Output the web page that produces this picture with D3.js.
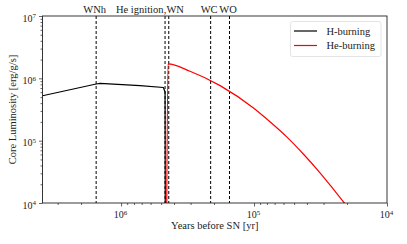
<!DOCTYPE html>
<html>
<head>
<meta charset="utf-8">
<script src="https://cdn.jsdelivr.net/npm/d3@7"></script>
<style>
  body { margin: 0; background: #fff; }
  text { font-family: "Liberation Serif", "DejaVu Serif", serif; fill: #222; }
</style>
</head>
<body>
<svg id="chart" width="407" height="244"></svg>
<script>
// H-burning track (years before SN, core luminosity erg/g/s)
const hTime = [3.9e6, 1.54e6, 1.44e6, 7.2e5, 4.81e5, 4.67e5, 4.65e5];
const hLum = [5.26e5, 8.11e5, 8.32e5, 7.62e5, 7.13e5, 6.04e5, 1e3];

// He-burning track
const heTime = [4.56e5, 4.44e5, 3.03e5, 1.80e5, 1.01e5, 7.59e4, 5.68e4, 4.26e4, 3.19e4, 2.54e4, 2.10e4, 1.90e4];
const heLum = [1e3, 1.70e6, 1.30e6, 7.64e5, 3.34e5, 2.01e5, 1.15e5, 6.11e4, 3.05e4, 1.68e4, 1.01e4, 7.55e3];

// phase markers
const eventLabels = ['WNh', 'He ignition', 'WN', 'WC', 'WO'];
const eventTimes = [1.54e6, 4.67e5, 4.38e5, 2.12e5, 1.53e5];

const xTicks = [1e6, 1e5, 1e4];
const yTicks = [1e4, 1e5, 1e6, 1e7];

const seriesNames = ['H-burning', 'He-burning'];
const seriesColors = ['#000', '#ff0000'];

const svg = d3.select('#chart');
const m = {left: 42.5, right: 387, top: 16, bottom: 203};

const x = d3.scaleLog().domain([3.9e6, 1e4]).range([m.left, m.right]);
const y = d3.scaleLog().domain([1e4, 1e7]).range([m.bottom, m.top]);

svg.append('clipPath').attr('id', 'clip')
  .append('rect')
  .attr('x', m.left).attr('y', m.top)
  .attr('width', m.right - m.left).attr('height', m.bottom - m.top);

// minor tick values
function minors(lo, hi) {
  let out = [];
  for (let e = Math.floor(Math.log10(lo)); e <= Math.ceil(Math.log10(hi)); e++) {
    for (let k = 2; k < 10; k++) {
      let v = k * Math.pow(10, e);
      if (v > lo && v < hi) out.push(v);
    }
  }
  return out;
}

function supLabel(sel) {
  sel.each(function(d) {
    let t = d3.select(this);
    t.text(null);
    t.append('tspan').text('10');
    t.append('tspan').attr('dy', '-0.45em').style('font-size', '7px')
      .text(Math.round(Math.log10(d)));
  });
}

// x axis
const xAx = svg.append('g')
  .attr('transform', 'translate(0,' + m.bottom + ')')
  .call(d3.axisBottom(x).tickValues(xTicks).tickSize(3.5).tickPadding(4).tickFormat(() => ''));
xAx.selectAll('.tick text').call(supLabel)
  .attr('dy', '0.75em').attr('dx', '-1').style('font-size', '10px');
xAx.select('.domain').remove();

svg.append('g')
  .attr('transform', 'translate(0,' + m.bottom + ')')
  .call(d3.axisBottom(x).tickValues(minors(1e4, 3.9e6)).tickSize(2).tickFormat(() => ''))
  .call(g => g.select('.domain').remove());

// y axis
const yAx = svg.append('g')
  .attr('transform', 'translate(' + m.left + ',0)')
  .call(d3.axisLeft(y).tickValues(yTicks).tickSize(3.5).tickPadding(3).tickFormat(() => ''));
yAx.selectAll('.tick text').call(supLabel)
  .attr('dy', '0.5em').style('font-size', '10px');
yAx.select('.domain').remove();

svg.append('g')
  .attr('transform', 'translate(' + m.left + ',0)')
  .call(d3.axisLeft(y).tickValues(minors(1e4, 1e7)).tickSize(2).tickFormat(() => ''))
  .call(g => g.select('.domain').remove());

svg.selectAll('.tick line').attr('stroke', '#222').attr('stroke-width', 0.7);

// event lines
const ev = svg.append('g');
ev.selectAll('line').data(eventTimes).join('line')
  .attr('x1', d => x(d)).attr('x2', d => x(d))
  .attr('y1', m.top).attr('y2', m.bottom)
  .attr('stroke', '#000').attr('stroke-width', 1)
  .attr('stroke-dasharray', '3,2');

ev.selectAll('text').data(eventLabels).join('text')
  .attr('x', (d, i) => {
    if (d === 'He ignition') return x(eventTimes[i]) - 1.5;
    if (d === 'WN') return x(eventTimes[i]) - 5;
    return x(eventTimes[i]) - 1.5;
  })
  .attr('y', 12.5)
  .attr('text-anchor', d => d === 'He ignition' ? 'end' : (d === 'WN' ? 'start' : 'middle'))
  .style('font-size', '10.5px')
  .text(d => d === 'WN' ? ',WN' : d);

// curves
const plot = svg.append('g').attr('clip-path', 'url(#clip)');

plot.append('path')
  .datum(d3.zip(hTime, hLum))
  .attr('d', d3.line().x(d => x(d[0])).y(d => y(d[1])))
  .attr('fill', 'none').attr('stroke', seriesColors[0]).attr('stroke-width', 1.2);

plot.append('path')
  .datum(d3.zip(heTime, heLum))
  .attr('d', d3.line().x(d => x(d[0])).y(d => y(d[1])).curve(d3.curveMonotoneX))
  .attr('fill', 'none').attr('stroke', seriesColors[1]).attr('stroke-width', 1.2);

// frame
svg.append('rect')
  .attr('x', m.left).attr('y', m.top)
  .attr('width', m.right - m.left).attr('height', m.bottom - m.top)
  .attr('fill', 'none').attr('stroke', '#222').attr('stroke-width', 0.9);

// legend
const lg = svg.append('g');
lg.append('rect')
  .attr('x', 290.5).attr('y', 21.5).attr('width', 90.5).attr('height', 35)
  .attr('rx', 2)
  .attr('fill', '#fff').attr('stroke', '#ddd').attr('stroke-width', 0.8);

seriesNames.forEach((name, i) => {
  let ly = 31 + i * 14.5;
  lg.append('line')
    .attr('x1', 294).attr('x2', 317).attr('y1', ly).attr('y2', ly)
    .attr('stroke', seriesColors[i]).attr('stroke-width', 1.2);
  lg.append('text')
    .attr('x', 326.5).attr('y', ly + 3.5)
    .style('font-size', '10.5px')
    .text(name);
});

// axis titles
svg.append('text')
  .attr('x', (m.left + m.right) / 2).attr('y', 229)
  .attr('text-anchor', 'middle')
  .style('font-size', '10.5px')
  .text('Years before SN [yr]');

svg.append('text')
  .attr('transform', 'translate(16,' + ((m.top + m.bottom) / 2) + ') rotate(-90)')
  .attr('text-anchor', 'middle')
  .style('font-size', '10.5px')
  .text('Core Luminosity [erg/g/s]');
</script>
</body>
</html>
